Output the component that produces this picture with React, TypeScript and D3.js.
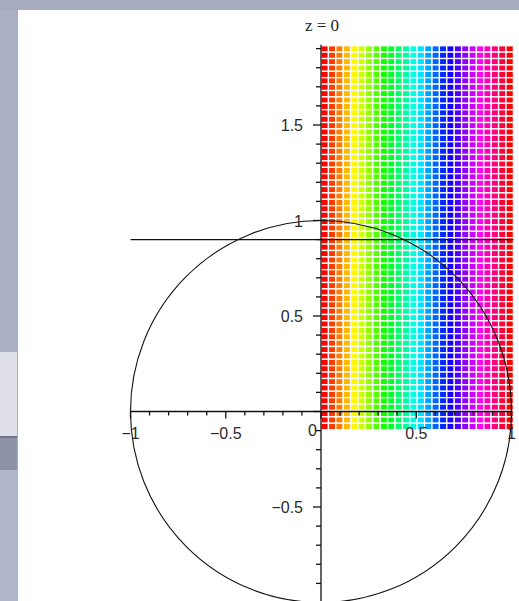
import React from 'react';
import * as d3 from 'd3';

const W = 519;
const H = 601;

// hue of each colour column, red (0) round the wheel back to red (360)
const columnHues = [0, 14, 29, 43, 58, 72, 86, 101, 115, 130, 144, 158, 173, 187, 202, 216, 230, 245, 259, 274, 288, 302, 317, 331, 346, 360];
const ROW_COUNT = 60;
const gridXRange = [0, 1.01];
const gridYRange = [-0.095, 1.915];

const xTicks = [-1, -0.5, 0, 0.5, 1];
const xTickLabels = ['\u22121', '\u22120.5', '0', '0.5', '1'];
const yTicks = [-0.5, 0.5, 1, 1.5];
const yTickLabels = ['\u22120.5', '0.5', '1', '1.5'];
const horizLineY = 0.9;
const circleR = 1;
const title = 'z = 0';

export default function App() {
  const x = d3.scaleLinear().domain([-1, 1]).range([130.5, 511.5]);
  const y = d3.scaleLinear().domain([0, 1]).range([411.5, 220.5]);

  const colW = (x(gridXRange[1]) - x(gridXRange[0])) / columnHues.length;
  const rowH = (y(gridYRange[0]) - y(gridYRange[1])) / ROW_COUNT;
  const rows = d3.range(ROW_COUNT);

  const xMinor = d3.range(-10, 11).map((d) => d / 10);
  const yMinor = d3.range(-10, 20).map((d) => d / 10);
  const yTop = y(gridYRange[1]) - 1;

  const labelFont = { fontFamily: 'Liberation Sans, Arial, sans-serif', fontSize: 16, fill: '#2a2a2a' };

  return (
    <svg width={W} height={H} style={{ position: 'absolute', left: 0, top: 0, display: 'block' }}>
      {/* surrounding screenshot */}
      <rect x={0} y={0} width={W} height={H} fill="#aab0c3" />
      <rect x={0} y={0} width={W} height={10} fill="#a6abbf" />
      <rect x={0} y={352} width={17} height={86} fill="#dfe0e7" />
      <rect x={0} y={436} width={17} height={2} fill="#6f7488" />
      <rect x={0} y={438} width={17} height={32} fill="#8d92a7" />
      <rect x={0} y={470} width={17} height={131} fill="#b2b6ca" />
      <rect x={18} y={10} width={W - 18} height={H - 10} fill="#ffffff" />

      {/* colour grid */}
      <g>
        {columnHues.map((h, i) =>
          rows.map((j) => (
            <rect
              key={`${i}-${j}`}
              x={x(gridXRange[0]) + i * colW}
              y={y(gridYRange[1]) + j * rowH}
              width={colW}
              height={rowH}
              fill={d3.hsl(h, 1, 0.5).toString()}
              stroke="#ffffff"
              strokeWidth={1.3}
            />
          ))
        )}
      </g>

      {/* circle */}
      <ellipse
        cx={x(0)}
        cy={y(0)}
        rx={x(circleR) - x(0)}
        ry={y(0) - y(circleR)}
        fill="none"
        stroke="#111"
        strokeWidth={1.1}
      />

      {/* horizontal line */}
      <line x1={x(-1)} x2={x(1.01)} y1={y(horizLineY)} y2={y(horizLineY)} stroke="#111" strokeWidth={1.2} />

      {/* x axis */}
      <g stroke="#111" strokeWidth={1.3}>
        <line x1={x(-1)} x2={x(1.005)} y1={y(0)} y2={y(0)} />
        {xMinor.map((v) => (
          <line key={v} x1={x(v)} x2={x(v)} y1={y(0)} y2={y(0) + (Math.abs(v * 2 - Math.round(v * 2)) < 1e-6 ? 7 : 4)} />
        ))}
      </g>
      {xTicks.map((v, i) => (
        <text
          key={v}
          x={v === 0 ? x(0) - 4 : x(v)}
          y={v === 0 ? 436 : 439}
          textAnchor={v === 0 ? 'end' : 'middle'}
          {...labelFont}
        >
          {xTickLabels[i]}
        </text>
      ))}

      {/* y axis */}
      <g stroke="#111" strokeWidth={1.3}>
        <line x1={x(0)} x2={x(0)} y1={yTop} y2={H} />
        {yMinor.map((v) => (
          <line key={v} x1={x(0)} x2={x(0) - (Math.abs(v * 2 - Math.round(v * 2)) < 1e-6 ? 8 : 5)} y1={y(v)} y2={y(v)} />
        ))}
      </g>
      {yTicks.map((v, i) => (
        <text key={v} x={303} y={y(v) + 6} textAnchor="end" {...labelFont}>
          {yTickLabels[i]}
        </text>
      ))}

      <text x={322} y={31} textAnchor="middle" fontFamily="Liberation Serif, serif" fontSize={17} fill="#222">
        {title}
      </text>
    </svg>
  );
}
